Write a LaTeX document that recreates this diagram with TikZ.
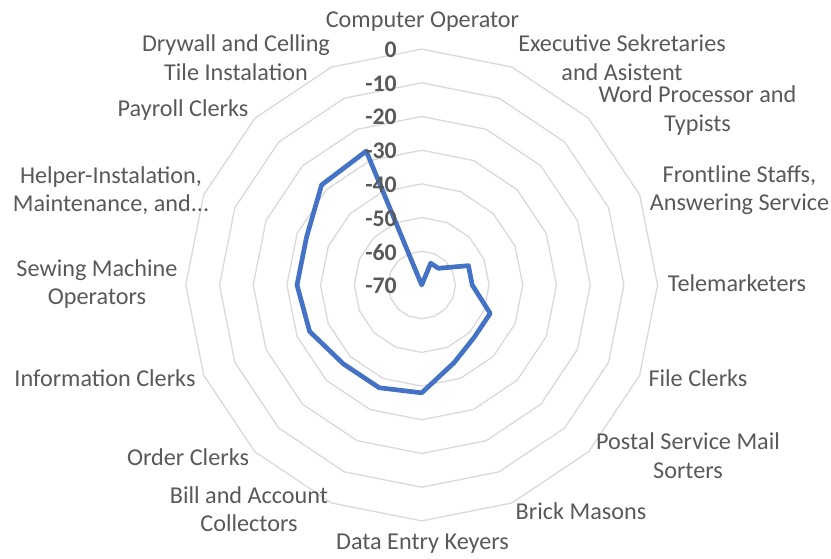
\documentclass[tikz,border=0pt]{standalone}
\usepackage{fontspec}
\setmainfont{Carlito}
\definecolor{gridc}{HTML}{D9D9D9}
\definecolor{txtc}{HTML}{595959}
\definecolor{serc}{HTML}{4472C4}
\begin{document}
\begin{tikzpicture}[x=1pt,y=-1pt,
  cat/.style={text=txtc,font=\fontsize{24.2}{28.5}\selectfont,align=center,inner sep=0pt},
  axl/.style={text=txtc,font=\fontsize{23.8}{28}\selectfont\bfseries,anchor=east,inner sep=0pt},
  ring/.style={draw=gridc,line width=1.3pt},
  series/.style={draw=serc,line width=4.7pt,line join=round}]
\useasboundingbox (0,0) rectangle (831,558);
\begin{scope}[shift={(421.7,285)}]
  \coordinate (c) at (0,0);
  \foreach \k in {1,...,7}{
    \draw[ring] (-90:{33.7*\k}) \foreach \i in {1,...,15}{ -- ({22.5*\i-90}:{33.7*\k}) } -- cycle;
  }
  \foreach \v [count=\i from 0] in {-70,-63,-63,-55,-55,-48,-48,-45,-38,-37,-37,-34,-33,-33,-28,-27}{
    \coordinate (p\i) at ({22.5*\i-90}:{3.37*(\v+70)});
  }
  \draw[series] (p0) -- (p1) -- (p2) -- (p3) -- (p4) -- (p5) -- (p6) -- (p7) -- (p8)
    -- (p9) -- (p10) -- (p11) -- (p12) -- (p13) -- (p14) -- (p15) -- cycle;
  \foreach \t [count=\k from 0] in {-70,-60,-50,-40,-30,-20,-10,0}{
    \node[axl] (a\k) at (-24.7,{0.7-33.7*\k}) {\t};
  }
\end{scope}
\node[cat] (l0) at (422.5,22) {Computer Operator};
\node[cat] (l1) at (622,57.5) {Executive Sekretaries\\and Asistent};
\node[cat] (l2) at (697.5,110.5) {Word Processor and\\Typists};
\node[cat] (l3) at (739.5,190) {Frontline Staffs,\\Answering Service};
\node[cat] (l4) at (737,283) {Telemarketers};
\node[cat] (l5) at (698,378) {File Clerks};
\node[cat] (l6) at (688,455.5) {Postal Service Mail\\Sorters};
\node[cat] (l7) at (581,511) {Brick Masons};
\node[cat] (l8) at (422.5,544) {Data Entry Keyers};
\node[cat] (l9) at (249,509) {Bill and Account\\Collectors};
\node[cat] (l10) at (188,457) {Order Clerks};
\node[cat] (l11) at (105,378) {Information Clerks};
\node[cat] (l12) at (97,284) {Sewing Machine\\Operators};
\node[cat] (l13) at (111,190.5) {Helper-Instalation,\\Maintenance, and...};
\node[cat] (l14) at (183,110) {Payroll Clerks};
\node[cat] (l15) at (236,57.5) {Drywall and Celling\\Tile Instalation};
\end{tikzpicture}
\end{document}
